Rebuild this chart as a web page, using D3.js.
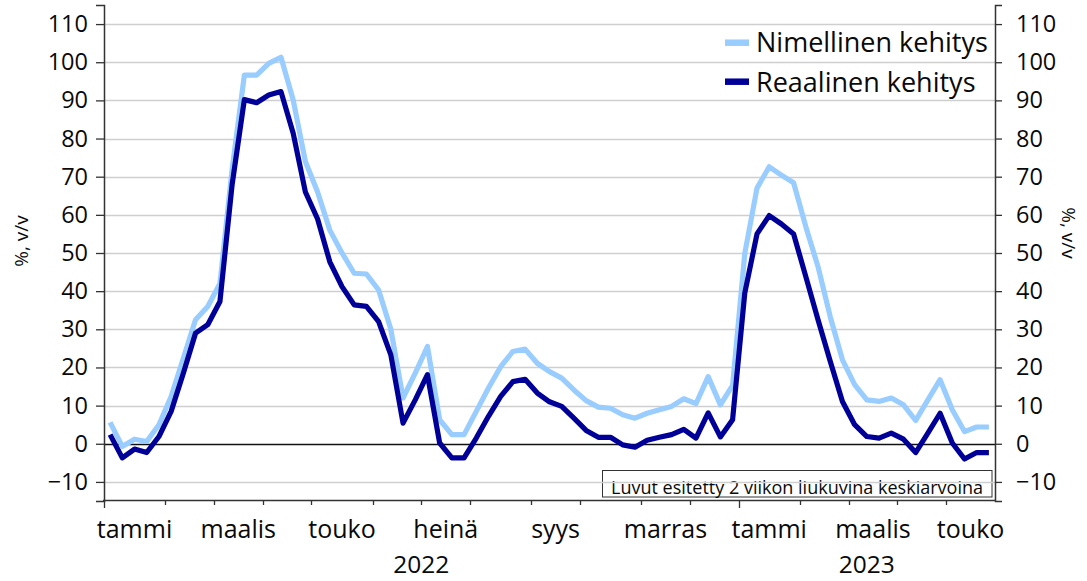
<!DOCTYPE html>
<html>
<head>
<meta charset="utf-8">
<script src="https://cdn.jsdelivr.net/npm/d3@7"></script>
<style>
  html, body { margin: 0; padding: 0; background: #ffffff; }
  svg { display: block; }
  text { font-family: "Open Sans", "Noto Sans", sans-serif; fill: #0a0a0a; }
</style>
</head>
<body>
<svg id="chart" width="1087" height="581"></svg>
<script>
// ---- data ----
const years = ["2022", "2023"];
const yearWeeks = [52, 21];
const monthLabels = ["tammi","helmi","maalis","huhti","touko","kesä","heinä","elo","syys","loka","marras","joulu",
                     "tammi","helmi","maalis","huhti","touko"];
const monthWeeks = [5,4,4,4,5,4,4,5,4,5,4,4, 5,4,4,4,4];
const monthShown = [1,0,1,0,1,0,1,0,1,0,1,0, 1,0,1,0,1];
const yTicks = [-10,0,10,20,30,40,50,60,70,80,90,100,110];
const seriesNames = ["Nimellinen kehitys", "Reaalinen kehitys"];
const nominal = [5.6,-0.7,1.2,0.6,5.0,12.4,22.4,32.5,36.0,42.0,
                 72.0,96.6,96.6,99.7,101.3,90.1,74.0,66.0,56.0,50.0,
                 44.7,44.5,40.3,30.0,12.0,18.5,25.5,6.3,2.4,2.4,
                 8.5,14.6,20.2,24.2,24.8,21.1,18.9,17.2,14.1,11.3,
                 9.6,9.3,7.6,6.7,8.0,8.9,9.8,11.8,10.5,17.6,
                 10.2,15.3,49.9,67.0,72.6,70.4,68.4,56.9,46.4,33.3,
                 22.0,15.5,11.5,11.1,12.0,10.2,6.1,11.5,16.8,8.9,
                 3.2,4.4,4.4];
const real = [2.4,-3.7,-1.4,-2.3,1.9,8.5,18.5,29.0,31.2,37.3,
              68.0,90.2,89.4,91.4,92.3,81.4,66.0,58.9,47.7,41.2,
              36.4,36.0,32.0,23.3,5.4,11.5,18.1,0.2,-3.7,-3.7,
              1.5,7.2,12.4,16.3,16.9,13.3,11.0,9.8,6.7,3.5,
              1.7,1.7,-0.3,-0.9,0.9,1.7,2.4,3.8,1.5,8.1,
              1.8,6.3,39.5,55.0,59.8,57.6,55.0,43.8,32.5,21.6,
              11.1,5.0,1.9,1.5,2.8,1.2,-2.3,2.8,8.0,0.2,
              -4.0,-2.3,-2.3];
const note = "Luvut esitetty 2 viikon liukuvina keskiarvoina";
const colors = ["#99ccff", "#000099"];

// ---- categories (weekly) ----
const weeks = [];
years.forEach((yr, k) => { for (let w = 1; w <= yearWeeks[k]; w++) weeks.push(yr + "-W" + String(w).padStart(2, "0")); });

const svg = d3.select("#chart");
const L = 104, R = 995, T = 5, B = 501;

const x = d3.scaleBand().domain(weeks).range([L, R]).padding(0);
const y = d3.scaleLinear().domain([-15, 115]).range([B, T]);
const cx = d => x(d) + x.bandwidth() / 2;

// note box (behind grid)
const noteG = svg.append("g");
noteG.append("rect").attr("x", 602.5).attr("y", 470.5).attr("width", 389.5).attr("height", 26.5)
  .attr("fill", "#fff").attr("stroke", "#333").attr("stroke-width", 1);
noteG.append("text").attr("x", 611).attr("y", 494).attr("font-size", 18)
  .attr("textLength", 372).attr("lengthAdjust", "spacingAndGlyphs").text(note);

// gridlines
svg.append("g").selectAll("line").data(yTicks).join("line")
  .attr("x1", L).attr("x2", R)
  .attr("y1", d => Math.round(y(d)) + 0.5).attr("y2", d => Math.round(y(d)) + 0.5)
  .attr("stroke", d => d === 0 ? "#111" : "#cfcfcf")
  .attr("stroke-width", d => d === 0 ? 1.5 : 1.3);

// lines
const line = d3.line().x((d, i) => cx(weeks[i])).y(d => y(d));
[nominal, real].forEach((s, k) => {
  svg.append("path").datum(s).attr("d", line).attr("fill", "none")
    .attr("stroke", colors[k]).attr("stroke-width", 5.2).attr("stroke-linejoin", "round");
});

// left axis
const yl = svg.append("g").attr("transform", `translate(${L},0)`)
  .call(d3.axisLeft(y).tickValues(yTicks).tickSize(8).tickPadding(8).tickFormat(d3.format("d")));
// right axis
const yr = svg.append("g").attr("transform", `translate(${R},0)`)
  .call(d3.axisRight(y).tickValues(yTicks).tickSize(7).tickPadding(14).tickFormat(d3.format("d")));
[yl, yr].forEach(g => {
  g.select(".domain").attr("stroke", "#333").attr("stroke-width", 1.5);
  g.selectAll(".tick line").attr("stroke", "#333").attr("stroke-width", 1.3);
  g.selectAll(".tick text").attr("font-size", 23.5).attr("font-family", "Open Sans, Noto Sans, sans-serif").attr("fill", "#0a0a0a");
});
yl.selectAll(".tick text").attr("text-anchor", "end");
yr.selectAll(".tick text").attr("x", 21).attr("text-anchor", "start");

// bottom axis
svg.append("line").attr("x1", L - 1).attr("x2", R).attr("y1", 500.5).attr("y2", 500.5)
  .attr("stroke", "#333").attr("stroke-width", 1.5);
let acc = 0;
const monthStart = monthWeeks.map(n => { const s = acc; acc += n; return s; });
const yearStartIdx = [0, yearWeeks[0]];
svg.append("g").selectAll("line").data(monthStart).join("line")
  .attr("x1", d => Math.round(x(weeks[d])) + 0.5).attr("x2", d => Math.round(x(weeks[d])) + 0.5)
  .attr("y1", 500).attr("y2", d => yearStartIdx.includes(d) ? 508 : 505)
  .attr("stroke", "#333").attr("stroke-width", 1.3);
svg.append("g").selectAll("text").data(monthLabels.map((m, i) => ({ m, i })).filter(d => monthShown[d.i]))
  .join("text")
  .attr("x", d => { const s = monthStart[d.i], e = s + monthWeeks[d.i]; const xe = e < weeks.length ? x(weeks[e]) : R; return (x(weeks[s]) + xe) / 2; })
  .attr("y", 538).attr("text-anchor", "middle").attr("font-size", 25).text(d => d.m);
svg.append("g").selectAll("text").data(years).join("text")
  .attr("x", (d, k) => { const s = yearStartIdx[k]; const e = s + yearWeeks[k]; const xe = e < weeks.length ? x(weeks[e]) : R; return (x(weeks[s]) + xe) / 2; })
  .attr("y", 573).attr("text-anchor", "middle").attr("font-size", 24.5).text(d => d);

// axis titles
svg.append("text").attr("transform", "translate(28,241) rotate(-90)").attr("text-anchor", "middle")
  .attr("font-size", 19).text("%, v/v");
svg.append("text").attr("transform", "translate(1062,233) rotate(90)").attr("text-anchor", "middle")
  .attr("font-size", 19).text("%, v/v");

// legend
const lg = svg.append("g");
seriesNames.forEach((n, k) => {
  const yy = 42.7 + k * 39;
  lg.append("line").attr("x1", 725).attr("x2", 749).attr("y1", yy).attr("y2", yy)
    .attr("stroke", colors[k]).attr("stroke-width", 6.5);
  lg.append("text").attr("x", 756).attr("y", 52 + k * 39.5).attr("font-size", 27).text(n);
});
</script>
</body>
</html>
